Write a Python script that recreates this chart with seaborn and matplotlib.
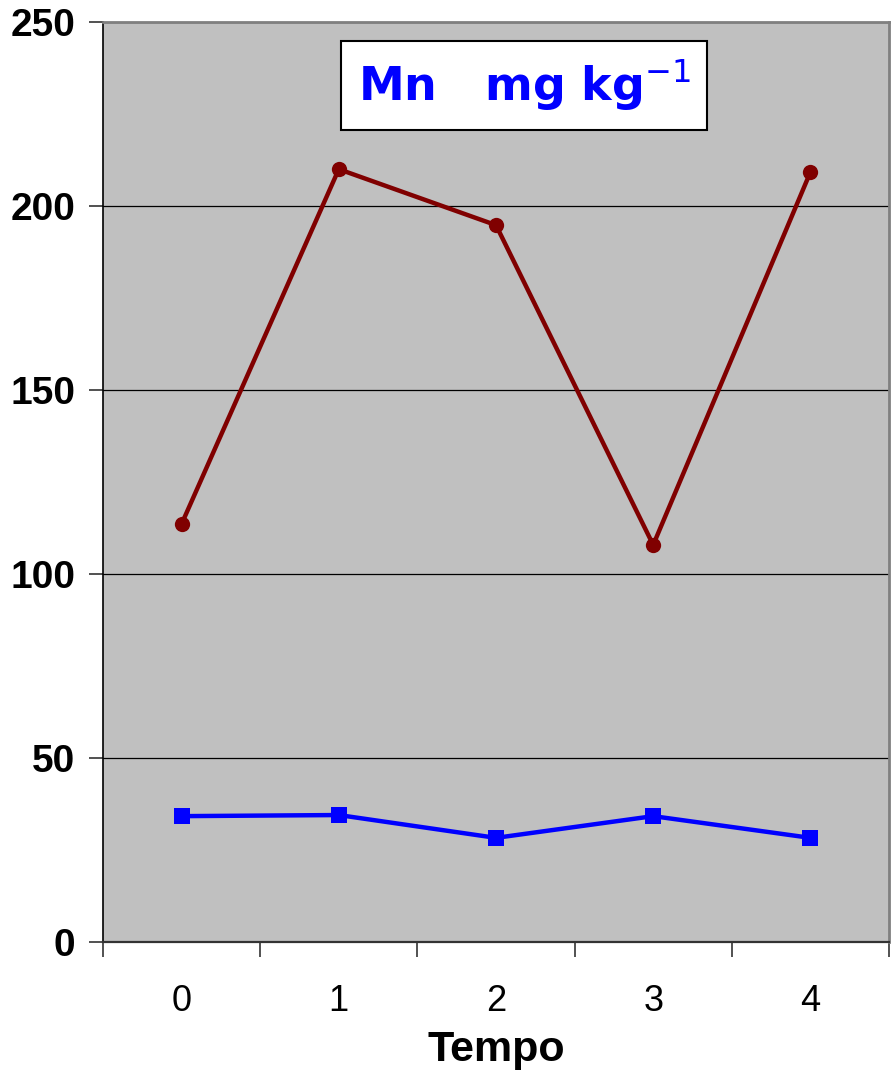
import matplotlib
matplotlib.use("Agg")
import matplotlib.pyplot as plt
import seaborn as sns
import pandas as pd

# Data
tempo = [0, 1, 2, 3, 4]
mn_red = [113.6, 210.0, 194.8, 107.9, 209.2]
mn_blue = [34.2, 34.5, 28.3, 34.2, 28.3]
y_ticks = [0, 50, 100, 150, 200, 250]

df = pd.DataFrame({"Tempo": tempo, "red": mn_red, "blue": mn_blue})

sns.set_style("white", {"axes.facecolor": "#C0C0C0"})
plt.rcParams['font.family'] = ['Liberation Sans', 'DejaVu Sans']

fig = plt.figure(figsize=(8.91, 10.71), dpi=100)
ax = fig.add_axes([103 / 891, 1 - 942 / 1071, 786 / 891, 920 / 1071])

sns.lineplot(data=df, x="Tempo", y="red", ax=ax, color="#800000", linewidth=3.2,
             marker="o", markersize=11, markeredgewidth=0, zorder=3)
sns.lineplot(data=df, x="Tempo", y="blue", ax=ax, color="#0000FF", linewidth=3.2,
             marker="s", markersize=11, markeredgewidth=0, zorder=3)

ax.set_xlim(-0.5, 4.5)
ax.set_ylim(0, 250)
ax.set_yticks(y_ticks)
ax.set_yticklabels([str(t) for t in y_ticks], fontsize=28, fontweight="bold", color="black")
ax.yaxis.grid(True, color="black", linewidth=0.9)
ax.set_axisbelow(True)

# category labels at centres, tick marks on the category boundaries
ax.set_xticks(tempo)
ax.set_xticklabels([str(t) for t in tempo], fontsize=26, color="black")
ax.set_xticks([t - 0.5 for t in tempo] + [4.5], minor=True)
ax.tick_params(axis="x", which="major", bottom=True, length=0, pad=30)
ax.tick_params(axis="x", which="minor", bottom=True, length=11, width=1.2,
               color="#333333", direction="out")
ax.tick_params(axis="y", which="major", left=True, length=10, width=1.2,
               color="#333333", direction="out", pad=10)

ax.spines["top"].set_color("#808080")
ax.spines["right"].set_color("#808080")
ax.spines["top"].set_linewidth(2)
ax.spines["right"].set_linewidth(2)
ax.spines["top"].set_zorder(4)
ax.spines["left"].set_color("black")
ax.spines["bottom"].set_color("#333333")
ax.spines["left"].set_linewidth(1.2)
ax.spines["bottom"].set_linewidth(1.6)

ax.set_xlabel("Tempo", fontsize=31, fontweight="bold", color="black", labelpad=8)
ax.set_ylabel("")

ax.text(0.536, 0.931, "Mn   mg kg$^{-1}$", transform=ax.transAxes,
        fontsize=33, fontweight="bold", color="#0000FF", family="DejaVu Sans",
        ha="center", va="center",
        bbox=dict(boxstyle="square,pad=0.36", facecolor="white", edgecolor="black", linewidth=1.5))

fig.savefig("out.png", dpi=100)
